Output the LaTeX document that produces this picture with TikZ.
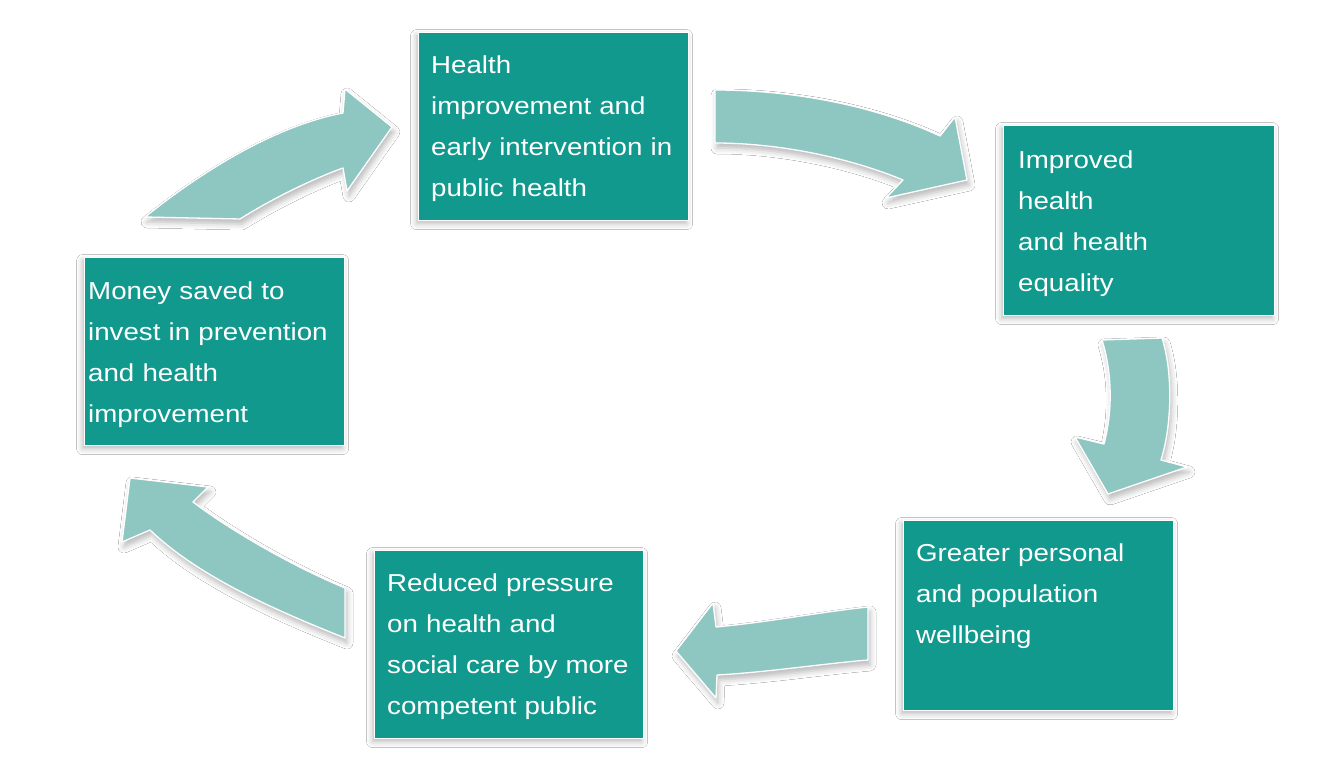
\documentclass[tikz,border=0pt]{standalone}
\usepackage{fontspec}
\setmainfont{Liberation Sans}[FakeStretch=1.13]
\usetikzlibrary{shadows.blur,calc}
\definecolor{boxteal}{HTML}{12998D}
\definecolor{arrowteal}{HTML}{8EC6C2}
\newcommand\boxfont{\fontsize{24.5pt}{41pt}\selectfont}
\begin{document}
\begin{tikzpicture}[x=1pt,y=-1pt,
  box/.style={fill=boxteal, draw=white, line width=1.2pt, anchor=north west, inner sep=0pt,
    blur shadow={shadow xshift=-2pt, shadow yshift=-3pt, shadow blur radius=6pt, shadow opacity=28}},
  boxtext/.style={anchor=north west, inner sep=0pt, text=white, font=\boxfont, align=left, text width=265pt},
  bigarrow/.style={fill=arrowteal, draw=white, line width=1.3pt, line join=round,
    blur shadow={shadow xshift=2pt, shadow yshift=-5pt, shadow blur radius=6pt, shadow opacity=28}}]
\useasboundingbox (0,0) rectangle (1331,762);
\fill[white] (0,0) rectangle (1331,762);

% boxes
\node[box, minimum width=270pt, minimum height=188pt] (b1) at (418,32) {};
\node[box, minimum width=271pt, minimum height=190pt] (b2) at (1003,125) {};
\node[box, minimum width=270pt, minimum height=190pt] (b3) at (903,520) {};
\node[box, minimum width=269pt, minimum height=188pt] (b4) at (374,550) {};
\node[box, minimum width=260pt, minimum height=188pt] (b5) at (84,257) {};

\node[boxtext] (t1) at ($(b1.north west)+(13,24)$) {Health\\improvement and\\early intervention in\\public health};
\node[boxtext] (t2) at ($(b2.north west)+(15,26)$) {Improved\\health\\and health\\equality};
\node[boxtext] (t3) at ($(b3.north west)+(13,24)$) {Greater personal\\and population\\wellbeing};
\node[boxtext] (t4) at ($(b4.north west)+(13,24)$) {Reduced pressure\\on health and\\social care by more\\competent public};
\node[boxtext] (t5) at ($(b5.north west)+(4,25)$) {Money saved to\\invest in prevention\\and health\\improvement};

% arrows
% b5 -> b1
\path[bigarrow] (145,217) .. controls (210,165) and (280,125) .. (343,113) -- (345,89) -- (392,127)
  -- (347,191) -- (343,168) .. controls (310,180) and (270,200) .. (240,219) -- cycle;
% b1 -> b2
\path[bigarrow] (715,90) .. controls (800,90) and (880,108) .. (940,136) -- (955,117) -- (967,180)
  -- (886,198) -- (903,180) .. controls (850,158) and (780,143) .. (715,143) -- cycle;
% b2 -> b3
\path[bigarrow] (1102,340) -- (1162,338) .. controls (1173,372) and (1172,425) .. (1161,460) -- (1187,467)
  -- (1108,494) -- (1075,437) -- (1104,444) .. controls (1113,410) and (1112,372) .. (1102,340) -- cycle;
% b3 -> b4
\path[bigarrow] (868,607) .. controls (820,612) and (770,622) .. (716,627) -- (713,603) -- (676,651)
  -- (716,698) -- (717,675) .. controls (770,672) and (820,664) .. (868,660) -- cycle;
% b4 -> b5
\path[bigarrow] (345,588) .. controls (290,565) and (230,530) .. (193,502) -- (208,487) -- (130,478)
  -- (122,542) -- (150,530) .. controls (200,578) and (280,612) .. (345,638) -- cycle;
\end{tikzpicture}
\end{document}
